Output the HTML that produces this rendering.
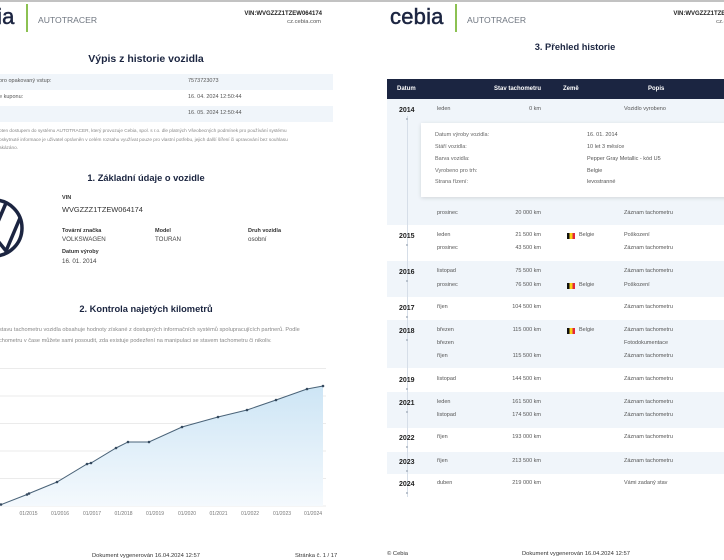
<!DOCTYPE html>
<html><head><meta charset="utf-8">
<style>
html,body{margin:0;padding:0;overflow:hidden;width:724px;height:560px}
body{position:relative;background:#fff;font-family:"Liberation Sans",Arial,sans-serif;color:#444}
#frame{position:absolute;left:0;top:0;width:724px;height:560px;overflow:hidden}
.pg{position:absolute;top:0;width:420px;height:560px}
#p1{left:0}#p2{left:429px}
.t{position:absolute;white-space:nowrap;line-height:1}
.b{font-weight:bold}
.band{position:absolute;left:-42px;width:375px;background:#f0f5fa}
.logo{position:absolute;left:-39px;top:6px;font-size:22px;color:#1c2541;-webkit-text-stroke:0.5px #1c2541;letter-spacing:0.2px}
.gbar{position:absolute;left:26px;top:4px;width:2px;height:28px;background:#8cc152}
.at{left:38px;top:16px;font-size:8.6px;color:#6f7680}
.vin{left:180px;width:142px;text-align:right;top:11px;font-size:6px;font-weight:bold;color:#222}
.web{left:180px;width:141px;text-align:right;top:20px;font-size:5.8px;color:#555}
.h1{left:26px;width:240px;text-align:center;font-weight:bold;color:#1b2540}
.sm{font-size:5.5px;color:#555}
.flag{position:absolute;width:8px;height:6px;background:linear-gradient(90deg,#111 0 33%,#f7d117 33% 66%,#e3263a 66%)}
.km{width:60px;text-align:right}
</style></head><body>
<div id="frame">
<div style="position:absolute;left:0;top:0;width:724px;height:2px;background:#c2c2c2"></div>

<!-- LEFT PAGE -->
<div class="pg" id="p1">
  <div class="t logo">cebia</div>
  <div class="gbar"></div>
  <div class="t at">AUTOTRACER</div>
  <div class="t vin">VIN:WVGZZZ1TZEW064174</div>
  <div class="t web">cz.cebia.com</div>

  <div class="t h1" style="top:54px;font-size:10.5px">Výpis z historie vozidla</div>

  <div class="band" style="top:74px;height:16px"></div>
  <div class="band" style="top:106px;height:16px"></div>
  <div class="t sm" style="left:-1px;top:79px">oro opakovaný vstup:</div>
  <div class="t sm" style="left:188px;top:79px">7573723073</div>
  <div class="t sm" style="left:-1px;top:95px">e kuponu:</div>
  <div class="t sm" style="left:188px;top:95px">16. 04. 2024 12:50:44</div>
  <div class="t sm" style="left:188px;top:111px">16. 05. 2024 12:50:44</div>

  <div class="t" style="left:-1px;top:128.5px;font-size:4.7px;color:#888">oten dostupem do systému AUTOTRACER, který provozuje Cebia, spol. s r.o. dle platných Všeobecných podmínek pro používání systému</div>
  <div class="t" style="left:-1px;top:137.5px;font-size:4.7px;color:#888">oskytnuté informace je uživatel oprávněn v celém rozsahu využívat pouze pro vlastní potřebu, jejich další šíření či upravování bez souhlasu</div>
  <div class="t" style="left:-1px;top:145.5px;font-size:4.7px;color:#888">akázáno.</div>

  <div class="t h1" style="top:173.5px;font-size:9.3px">1. Základní údaje o vozidle</div>

  <div class="t b" style="left:62px;top:196.3px;font-size:5.5px;color:#333">VIN</div>
  <div class="t" style="left:62px;top:206.4px;font-size:7.4px;color:#333">WVGZZZ1TZEW064174</div>
  <div class="t b" style="left:62px;top:229.3px;font-size:5.5px;color:#333">Tovární značka</div>
  <div class="t" style="left:62px;top:237px;font-size:6.2px;color:#444">VOLKSWAGEN</div>
  <div class="t b" style="left:155px;top:229.3px;font-size:5.5px;color:#333">Model</div>
  <div class="t" style="left:155px;top:237px;font-size:6.2px;color:#444">TOURAN</div>
  <div class="t b" style="left:248px;top:229.3px;font-size:5.5px;color:#333">Druh vozidla</div>
  <div class="t" style="left:248px;top:237px;font-size:6.2px;color:#444">osobní</div>
  <div class="t b" style="left:62px;top:250.3px;font-size:5.5px;color:#333">Datum výroby</div>
  <div class="t" style="left:62px;top:259px;font-size:6.2px;color:#444">16. 01. 2014</div>

  <div class="t h1" style="top:304.5px;font-size:9.3px">2. Kontrola najetých kilometrů</div>
  <div class="t" style="left:-1px;top:328px;font-size:5.6px;color:#888">stavu tachometru vozidla obsahuje hodnoty získané z dostupných informačních systémů spolupracujících partnerů. Podle</div>
  <div class="t" style="left:-1px;top:339px;font-size:5.6px;color:#888">chometru v čase můžete sami posoudit, zda existuje podezření na manipulaci se stavem tachometru či nikoliv.</div>

  <div class="t" style="left:92px;top:554px;font-size:5.8px;color:#333">Dokument vygenerován 16.04.2024 12:57</div>
  <div class="t" style="left:295px;top:554px;font-size:5.8px;color:#333">Stránka č. 1 / 17</div>
</div>

<!-- RIGHT PAGE -->
<div class="pg" id="p2">
  <div class="t logo">cebia</div>
  <div class="gbar"></div>
  <div class="t at">AUTOTRACER</div>
  <div class="t vin">VIN:WVGZZZ1TZEW064174</div>
  <div class="t web">cz.cebia.com</div>

  <div class="t h1" style="top:42.5px;font-size:9.3px">3. Přehled historie</div>

  <div style="position:absolute;left:-42px;top:79px;width:375px;height:20px;background:#1b2541"></div>
  <div class="t b" style="left:-32px;top:86px;font-size:6px;color:#fff">Datum</div>
  <div class="t b" style="left:65px;top:86px;font-size:6px;color:#fff">Stav tachometru</div>
  <div class="t b" style="left:134px;top:86px;font-size:6px;color:#fff">Země</div>
  <div class="t b" style="left:219px;top:86px;font-size:6px;color:#fff">Popis</div>

  <div class="band" style="top:99px;height:126px"></div>
  <div class="band" style="top:261px;height:36px"></div>
  <div class="band" style="top:320px;height:48px"></div>
  <div class="band" style="top:392px;height:36px"></div>
  <div class="band" style="top:452px;height:22px"></div>

  <div style="position:absolute;left:-22px;top:116px;width:1px;height:381px;background:#d6dee8"></div>

  <div style="position:absolute;left:-8px;top:123px;width:340px;height:74px;background:#fff;box-shadow:0 1px 4px rgba(0,0,0,0.13)"></div>
  <div class="t sm" style="left:6px;top:133px;color:#666">Datum výroby vozidla:</div>
  <div class="t sm" style="left:158px;top:133px">16. 01. 2014</div>
  <div class="t sm" style="left:6px;top:145px;color:#666">Stáří vozidla:</div>
  <div class="t sm" style="left:158px;top:145px">10 let 3 měsíce</div>
  <div class="t sm" style="left:6px;top:157px;color:#666">Barva vozidla:</div>
  <div class="t sm" style="left:158px;top:157px">Pepper Gray Metallic - kód U5</div>
  <div class="t sm" style="left:6px;top:169px;color:#666">Vyrobeno pro trh:</div>
  <div class="t sm" style="left:158px;top:169px">Belgie</div>
  <div class="t sm" style="left:6px;top:180px;color:#666">Strana řízení:</div>
  <div class="t sm" style="left:158px;top:180px">levostranné</div>

  <div class="t b" style="left:-30px;top:106.6px;font-size:7px;color:#222">2014</div>
  <div class="t b" style="left:-30px;top:232.6px;font-size:7px;color:#222">2015</div>
  <div class="t b" style="left:-30px;top:268.6px;font-size:7px;color:#222">2016</div>
  <div class="t b" style="left:-30px;top:304.6px;font-size:7px;color:#222">2017</div>
  <div class="t b" style="left:-30px;top:327.6px;font-size:7px;color:#222">2018</div>
  <div class="t b" style="left:-30px;top:376.6px;font-size:7px;color:#222">2019</div>
  <div class="t b" style="left:-30px;top:399.6px;font-size:7px;color:#222">2021</div>
  <div class="t b" style="left:-30px;top:434.6px;font-size:7px;color:#222">2022</div>
  <div class="t b" style="left:-30px;top:458.6px;font-size:7px;color:#222">2023</div>
  <div class="t b" style="left:-30px;top:480.6px;font-size:7px;color:#222">2024</div>

  <div class="t sm" style="left:8px;top:107px">leden</div>
  <div class="t sm km" style="left:52px;top:107px">0 km</div>
  <div class="t sm" style="left:195px;top:107px">Vozidlo vyrobeno</div>

  <div class="t sm" style="left:8px;top:211px">prosinec</div>
  <div class="t sm km" style="left:52px;top:211px">20 000 km</div>
  <div class="t sm" style="left:195px;top:211px">Záznam tachometru</div>

  <div class="t sm" style="left:8px;top:233px">leden</div>
  <div class="t sm km" style="left:52px;top:233px">21 500 km</div>
  <div class="flag" style="left:138px;top:233px"></div>
  <div class="t sm" style="left:150px;top:233px">Belgie</div>
  <div class="t sm" style="left:195px;top:233px">Poškození</div>

  <div class="t sm" style="left:8px;top:246px">prosinec</div>
  <div class="t sm km" style="left:52px;top:246px">43 500 km</div>
  <div class="t sm" style="left:195px;top:246px">Záznam tachometru</div>

  <div class="t sm" style="left:8px;top:269px">listopad</div>
  <div class="t sm km" style="left:52px;top:269px">75 500 km</div>
  <div class="t sm" style="left:195px;top:269px">Záznam tachometru</div>

  <div class="t sm" style="left:8px;top:283px">prosinec</div>
  <div class="t sm km" style="left:52px;top:283px">76 500 km</div>
  <div class="flag" style="left:138px;top:283px"></div>
  <div class="t sm" style="left:150px;top:283px">Belgie</div>
  <div class="t sm" style="left:195px;top:283px">Poškození</div>

  <div class="t sm" style="left:8px;top:305px">říjen</div>
  <div class="t sm km" style="left:52px;top:305px">104 500 km</div>
  <div class="t sm" style="left:195px;top:305px">Záznam tachometru</div>

  <div class="t sm" style="left:8px;top:328px">březen</div>
  <div class="t sm km" style="left:52px;top:328px">115 000 km</div>
  <div class="flag" style="left:138px;top:328px"></div>
  <div class="t sm" style="left:150px;top:328px">Belgie</div>
  <div class="t sm" style="left:195px;top:328px">Záznam tachometru</div>

  <div class="t sm" style="left:8px;top:341px">březen</div>
  <div class="t sm" style="left:195px;top:341px">Fotodokumentace</div>

  <div class="t sm" style="left:8px;top:354px">říjen</div>
  <div class="t sm km" style="left:52px;top:354px">115 500 km</div>
  <div class="t sm" style="left:195px;top:354px">Záznam tachometru</div>

  <div class="t sm" style="left:8px;top:377px">listopad</div>
  <div class="t sm km" style="left:52px;top:377px">144 500 km</div>
  <div class="t sm" style="left:195px;top:377px">Záznam tachometru</div>

  <div class="t sm" style="left:8px;top:400px">leden</div>
  <div class="t sm km" style="left:52px;top:400px">161 500 km</div>
  <div class="t sm" style="left:195px;top:400px">Záznam tachometru</div>

  <div class="t sm" style="left:8px;top:413px">listopad</div>
  <div class="t sm km" style="left:52px;top:413px">174 500 km</div>
  <div class="t sm" style="left:195px;top:413px">Záznam tachometru</div>

  <div class="t sm" style="left:8px;top:435px">říjen</div>
  <div class="t sm km" style="left:52px;top:435px">193 000 km</div>
  <div class="t sm" style="left:195px;top:435px">Záznam tachometru</div>

  <div class="t sm" style="left:8px;top:459px">říjen</div>
  <div class="t sm km" style="left:52px;top:459px">213 500 km</div>
  <div class="t sm" style="left:195px;top:459px">Záznam tachometru</div>

  <div class="t sm" style="left:8px;top:481px">duben</div>
  <div class="t sm km" style="left:52px;top:481px">219 000 km</div>
  <div class="t sm" style="left:195px;top:481px">Vámi zadaný stav</div>

  <div class="t" style="left:-42px;top:552px;font-size:5.8px;color:#333">© Cebia</div>
  <div class="t" style="left:93px;top:552px;font-size:5.8px;color:#333">Dokument vygenerován 16.04.2024 12:57</div>
</div>

<svg width="724" height="560" viewBox="0 0 724 560" style="position:absolute;left:0;top:0" xmlns="http://www.w3.org/2000/svg">
  <defs>
    <linearGradient id="g" x1="0" y1="386" x2="0" y2="506" gradientUnits="userSpaceOnUse">
      <stop offset="0" stop-color="#cde5f5"/>
      <stop offset="1" stop-color="#f4f9fd"/>
    </linearGradient>
  </defs>
  <g fill="#aab4c0">
    <circle cx="407" cy="119" r="1"/><circle cx="407" cy="245" r="1"/><circle cx="407" cy="281" r="1"/>
    <circle cx="407" cy="317" r="1"/><circle cx="407" cy="340" r="1"/><circle cx="407" cy="389" r="1"/>
    <circle cx="407" cy="412" r="1"/><circle cx="407" cy="447" r="1"/><circle cx="407" cy="471" r="1"/>
    <circle cx="407" cy="493" r="1"/>
  </g>
  <g transform="translate(-6,228)" fill="none" stroke="#1c2541" stroke-width="3.5">
    <circle cx="0" cy="0" r="28"/>
    <path d="M-12,-25 L0,3 L12,-25"/>
    <path d="M-26,-10 L-12,23 L0,8 L12,23 L26,-10"/>
  </g>
  <g stroke="#ebebeb" stroke-width="1">
    <line x1="0" y1="368.5" x2="326" y2="368.5"/>
    <line x1="0" y1="396" x2="326" y2="396"/>
    <line x1="0" y1="423.5" x2="326" y2="423.5"/>
    <line x1="0" y1="451" x2="326" y2="451"/>
    <line x1="0" y1="478.5" x2="326" y2="478.5"/>
    <line x1="0" y1="506" x2="326" y2="506"/>
  </g>
  <polygon fill="url(#g)" points="0,505 27,494.5 29,493.5 57,482 87,464 91,463 116,448 128,442 149,442 182,427 218,417 247,410 276,400 307,389 323,386 323,506 0,506"/>
  <polyline fill="none" stroke="#4a6378" stroke-width="1" points="0,505 27,494.5 29,493.5 57,482 87,464 91,463 116,448 128,442 149,442 182,427 218,417 247,410 276,400 307,389 323,386"/>
  <g fill="#34495e">
    <circle cx="1" cy="504.5" r="1.3"/><circle cx="27" cy="494.5" r="1.3"/><circle cx="29" cy="493.5" r="1.3"/>
    <circle cx="57" cy="482" r="1.3"/><circle cx="87" cy="464" r="1.3"/><circle cx="91" cy="463" r="1.3"/>
    <circle cx="116" cy="448" r="1.3"/><circle cx="128" cy="442" r="1.3"/><circle cx="149" cy="442" r="1.3"/>
    <circle cx="182" cy="427" r="1.3"/><circle cx="218" cy="417" r="1.3"/><circle cx="247" cy="410" r="1.3"/>
    <circle cx="276" cy="400" r="1.3"/><circle cx="307" cy="389" r="1.3"/><circle cx="323" cy="386" r="1.3"/>
  </g>
  <g font-family="Liberation Sans, Arial, sans-serif" font-size="5" fill="#777" text-anchor="middle">
    <text x="28.5" y="515">01/2015</text><text x="60" y="515">01/2016</text><text x="92" y="515">01/2017</text>
    <text x="123.5" y="515">01/2018</text><text x="155" y="515">01/2019</text><text x="187" y="515">01/2020</text>
    <text x="218.5" y="515">01/2021</text><text x="250" y="515">01/2022</text><text x="282" y="515">01/2023</text>
    <text x="313" y="515">01/2024</text>
  </g>
</svg>
</div>
</body></html>
